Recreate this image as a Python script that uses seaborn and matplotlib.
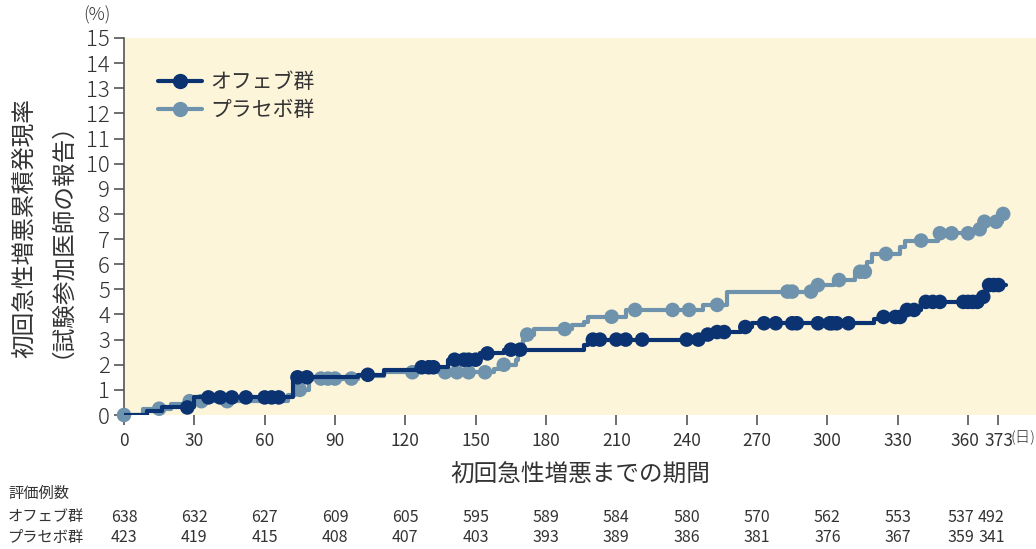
import numpy as np
import pandas as pd
import seaborn as sns
import matplotlib.pyplot as plt
from matplotlib.lines import Line2D
from matplotlib.transforms import blended_transform_factory, ScaledTranslation

# Step curves: time (days) at which the cumulative rate changes, and the new level (%)
ofev_step_t = [0, 10, 16, 30, 72, 100, 111, 125, 138, 152, 162, 196, 198, 247, 252, 263,
               268, 320, 322, 333, 340, 366, 368, 376]
ofev_step_y = [0, 0.15, 0.3, 0.7, 1.5, 1.6, 1.8, 1.9, 2.2, 2.45, 2.6, 2.8, 3.0, 3.2, 3.3, 3.5,
               3.65, 3.8, 3.9, 4.18, 4.5, 4.7, 5.17, 5.17]
ofev_censor = [27, 36, 41, 46, 52, 60, 63, 66, 74, 78, 104, 127, 130, 132, 141, 145, 147, 150,
               155, 165, 169, 200, 203, 210, 214, 221, 240, 245, 249, 253, 256, 265, 273, 278,
               285, 287, 296, 301, 302, 304, 309, 324, 329, 331, 334, 337, 342, 345, 348, 358,
               360, 362, 364, 366.5, 369, 371, 373]

placebo_step_t = [0, 8, 20, 27, 70, 73, 79, 100, 111, 158, 160, 167, 168, 170, 171, 175, 191,
                  196, 198, 214, 247, 257, 294, 303, 312, 317, 319, 331, 333, 347, 363, 366,
                  374.5, 376]
placebo_step_y = [0, 0.25, 0.45, 0.55, 0.8, 1.0, 1.45, 1.55, 1.7, 1.85, 2.0, 2.2, 2.6, 3.0, 3.2,
                  3.42, 3.58, 3.71, 3.91, 4.18, 4.38, 4.91, 5.17, 5.37, 5.7, 6.1, 6.41, 6.7,
                  6.94, 7.23, 7.39, 7.69, 8.0, 8.0]
placebo_censor = [0, 15, 28, 33, 44, 75, 84, 87, 90, 97, 123, 137, 142, 147, 154, 162, 172, 188,
                  208, 218, 234, 241, 253, 283, 285, 293, 296, 305, 314, 316, 325, 340, 348,
                  353, 360, 365, 367, 372, 375]

groups = ['オフェブ群', 'プラセボ群']
colors = ['#0b3372', '#6f93ad']

tick_days = [0, 30, 60, 90, 120, 150, 180, 210, 240, 270, 300, 330, 360, 373]
risk_ofev = [638, 632, 627, 609, 605, 595, 589, 584, 580, 570, 562, 553, 537, 492]
risk_placebo = [423, 419, 415, 408, 407, 403, 393, 389, 386, 381, 376, 367, 359, 341]


def level_at(step_t, step_y, t):
    idx = np.searchsorted(step_t, t, side='right') - 1
    return np.asarray(step_y)[idx]


sns.set_theme(style='white')
plt.rcParams['font.family'] = ['Noto Sans CJK JP', 'DejaVu Sans']
text_color = '#333333'

W, H = 1036, 549
fig = plt.figure(figsize=(W / 100, H / 100), dpi=100)
ax = fig.add_axes([124 / W, 1 - 415 / H, 1 - 124 / W, 377 / H])
ax.set_facecolor('#fdf5da')

series = [(ofev_step_t, ofev_step_y, ofev_censor), (placebo_step_t, placebo_step_y, placebo_censor)]
for i in [1, 0]:
    st, sy, cen = series[i]
    z = 4 if i == 0 else 2
    sns.lineplot(x=st, y=sy, drawstyle='steps-post', color=colors[i], lw=3,
                 estimator=None, ax=ax, zorder=z)
    sns.scatterplot(x=cen, y=level_at(st, sy, cen), color=colors[i], s=110,
                    edgecolor='none', linewidth=0, ax=ax, zorder=z + 1, clip_on=False)

ax.set_xlim(0, 389)
ax.set_ylim(0, 15)
ax.set_xticks(tick_days)
ax.set_yticks(range(0, 16))
ax.tick_params(axis='both', direction='out', length=7, width=1.2, color='#555555',
               labelcolor=text_color)
ax.tick_params(axis='y', pad=3, labelsize=16)
ax.tick_params(axis='x', pad=5, labelsize=12.5)
ax.tick_params(left=True, bottom=True)
for lab in ax.get_yticklabels():
    lab.set_fontweight('light')
# nudge the 360 label left, it sits close to 373
xlabs = ax.get_xticklabels()
xlabs[-2].set_transform(xlabs[-2].get_transform() + ScaledTranslation(-3 / 100, 0, fig.dpi_scale_trans))
for side in ['top', 'right', 'bottom']:
    ax.spines[side].set_visible(False)
ax.spines['left'].set_color('#555555')
ax.spines['left'].set_linewidth(1.2)
ax.set_xlabel('')
ax.set_ylabel('')

handles = [Line2D([0], [0], color=c, lw=3, marker='o', markersize=10) for c in colors]
ax.legend(handles, groups, loc='upper left', bbox_to_anchor=(0.028, 0.935), frameon=False,
          fontsize=15, handlelength=2.1, handletextpad=0.4, labelspacing=0.3,
          borderaxespad=0, labelcolor=text_color)

fig.text(97 / W, 1 - 15 / H, '(%)', ha='center', va='center', fontsize=13,
         color=text_color, fontweight='light')
fig.text(37 / W, 1 - 228 / H, '初回急性増悪累積発現率\n（試験参加医師の報告）', rotation=90,
         ha='center', va='center', multialignment='center', fontsize=17,
         color=text_color, linespacing=1.1)
fig.text(580 / W, 1 - 475 / H, '初回急性増悪までの期間', ha='center', va='center',
         fontsize=17, color=text_color)
fig.text(1036 / W, 1 - 438 / H, '(日)', ha='right', va='center', fontsize=11,
         color=text_color, fontweight='light')

# number at risk table
trans = blended_transform_factory(ax.transData, fig.transFigure)
fig.text(8 / W, 1 - 493 / H, '評価例数', ha='left', va='center', fontsize=11, color=text_color)
fig.text(8 / W, 1 - 517 / H, groups[0], ha='left', va='center', fontsize=11, color=text_color)
fig.text(8 / W, 1 - 537 / H, groups[1], ha='left', va='center', fontsize=11, color=text_color)
for i, d in enumerate(tick_days):
    xd = d - 3 if d >= 360 else d
    ax.text(xd, 1 - 517 / H, str(risk_ofev[i]), transform=trans, ha='center', va='center',
            fontsize=11.5, color=text_color)
    ax.text(xd, 1 - 537 / H, str(risk_placebo[i]), transform=trans, ha='center', va='center',
            fontsize=11.5, color=text_color)

fig.savefig('out.png', dpi=100, facecolor='white')
